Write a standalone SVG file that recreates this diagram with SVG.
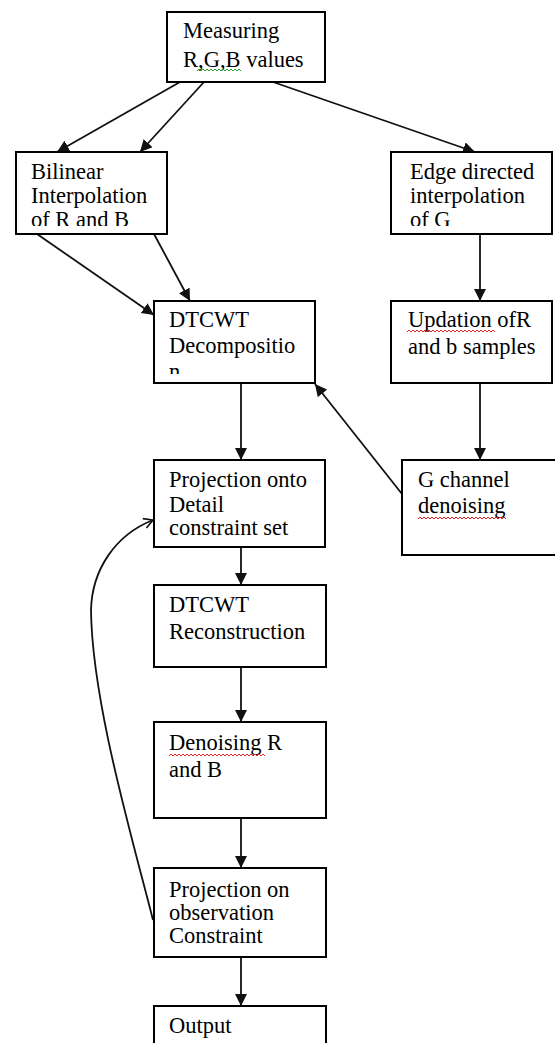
<svg xmlns="http://www.w3.org/2000/svg" width="555" height="1043" viewBox="0 0 555 1043">
<style>
.box{fill:#fff;stroke:#000;stroke-width:2}
.t{font-family:"Liberation Serif","Times New Roman",serif;font-size:22.5px;fill:#000}
.c{fill:none;stroke:#111;stroke-width:1.8}
.sq{fill:none;stroke:#e02020;stroke-width:1}
.sqg{fill:none;stroke:#2a9a2a;stroke-width:1}
</style>
<defs>
<marker id="ah" markerUnits="userSpaceOnUse" markerWidth="13" markerHeight="13" refX="12" refY="6" orient="auto">
<path d="M0,0 L12,6 L0,12 z" fill="#111"/>
</marker>
<marker id="oa" markerUnits="userSpaceOnUse" markerWidth="14" markerHeight="14" refX="10" refY="6" orient="auto">
<path d="M1,1 L10,6 L1,11" fill="none" stroke="#111" stroke-width="1.6"/>
</marker>
<clipPath id="cp2"><rect x="16" y="152" width="151" height="74"/></clipPath>
<clipPath id="cp3"><rect x="391" y="152" width="161" height="74"/></clipPath>
<clipPath id="cp4"><rect x="154" y="301" width="161" height="73"/></clipPath>
</defs>

<g id="connectors">
<line class="c" x1="180" y1="82" x2="57" y2="152" marker-end="url(#ah)"/>
<line class="c" x1="204" y1="82" x2="140" y2="152" marker-end="url(#ah)"/>
<line class="c" x1="273" y1="82" x2="475" y2="152" marker-end="url(#ah)"/>
<line class="c" x1="37" y1="234" x2="154" y2="315" marker-end="url(#ah)"/>
<line class="c" x1="154" y1="234" x2="190" y2="301" marker-end="url(#ah)"/>
<line class="c" x1="480" y1="234" x2="480" y2="301" marker-end="url(#ah)"/>
<line class="c" x1="480" y1="383" x2="480" y2="460" marker-end="url(#ah)"/>
<line class="c" x1="402" y1="494" x2="315" y2="384" marker-end="url(#ah)"/>
<line class="c" x1="241" y1="383" x2="241" y2="460" marker-end="url(#ah)"/>
<line class="c" x1="241" y1="547" x2="241" y2="585" marker-end="url(#ah)"/>
<line class="c" x1="241" y1="667" x2="241" y2="722" marker-end="url(#ah)"/>
<line class="c" x1="241" y1="818" x2="241" y2="868" marker-end="url(#ah)"/>
<line class="c" x1="241" y1="957" x2="241" y2="1006" marker-end="url(#ah)"/>
<path class="c" d="M153,920 C130,830 92,700 91,610 C92,570 115,535 153,520" marker-end="url(#oa)"/>
</g>

<g id="n1">
<rect class="box" x="167" y="12" width="158" height="70"/>
<text class="t" x="183" y="38">Measuring</text>
<text class="t" x="183" y="67">R,G,B values</text>
<path class="sqg" d="M197,71 l2,-2 l2,2 l2,-2 l2,2 l2,-2 l2,2 l2,-2 l2,2 l2,-2 l2,2 l2,-2 l2,2 l2,-2 l2,2 l2,-2 l2,2 l2,-2 l2,2 l2,-2 l2,2 l2,-2 l2,2"/>
</g>

<g id="n2">
<rect class="box" x="16" y="152" width="151" height="82"/>
<g clip-path="url(#cp2)">
<text class="t" x="31" y="179">Bilinear</text>
<text class="t" x="31" y="203">Interpolation</text>
<text class="t" x="31" y="227">of R and B</text>
</g>
</g>

<g id="n3">
<rect class="box" x="391" y="152" width="161" height="82"/>
<g clip-path="url(#cp3)">
<text class="t" x="410" y="179">Edge directed</text>
<text class="t" x="410" y="203">interpolation</text>
<text class="t" x="410" y="227">of G</text>
</g>
</g>

<g id="n4">
<rect class="box" x="154" y="301" width="161" height="82"/>
<g clip-path="url(#cp4)">
<text class="t" x="169" y="327">DTCWT</text>
<text class="t" x="169" y="353">Decompositio</text>
<text class="t" x="169" y="379">n</text>
</g>
</g>

<g id="n5">
<rect class="box" x="391" y="301" width="161" height="82"/>
<text class="t" x="408" y="327">Updation ofR</text>
<text class="t" x="408" y="354">and b samples</text>
<path class="sq" d="M407,332 l2,-2 l2,2 l2,-2 l2,2 l2,-2 l2,2 l2,-2 l2,2 l2,-2 l2,2 l2,-2 l2,2 l2,-2 l2,2 l2,-2 l2,2 l2,-2 l2,2 l2,-2 l2,2 l2,-2 l2,2 l2,-2 l2,2 l2,-2 l2,2 l2,-2 l2,2 l2,-2 l2,2 l2,-2 l2,2 l2,-2 l2,2 l2,-2 l2,2 l2,-2 l2,2 l2,-2 l2,2 l2,-2 l2,2 l2,-2 l2,2"/>
</g>

<g id="n6">
<rect class="box" x="402" y="460" width="160" height="95"/>
<text class="t" x="418" y="487">G channel</text>
<text class="t" x="418" y="513">denoising</text>
<path class="sq" d="M418,519 l2,-2 l2,2 l2,-2 l2,2 l2,-2 l2,2 l2,-2 l2,2 l2,-2 l2,2 l2,-2 l2,2 l2,-2 l2,2 l2,-2 l2,2 l2,-2 l2,2 l2,-2 l2,2 l2,-2 l2,2 l2,-2 l2,2 l2,-2 l2,2 l2,-2 l2,2 l2,-2 l2,2 l2,-2 l2,2 l2,-2 l2,2 l2,-2 l2,2 l2,-2 l2,2 l2,-2 l2,2 l2,-2 l2,2 l2,-2 l2,2"/>
</g>

<g id="n7">
<rect class="box" x="154" y="460" width="171" height="87"/>
<text class="t" x="169" y="487">Projection onto</text>
<text class="t" x="169" y="512">Detail</text>
<text class="t" x="169" y="535">constraint set</text>
</g>

<g id="n8">
<rect class="box" x="154" y="585" width="172" height="82"/>
<text class="t" x="169" y="612">DTCWT</text>
<text class="t" x="169" y="639">Reconstruction</text>
</g>

<g id="n9">
<rect class="box" x="154" y="722" width="172" height="96"/>
<text class="t" x="169" y="750">Denoising R</text>
<text class="t" x="169" y="777">and B</text>
<path class="sq" d="M169,756 l2,-2 l2,2 l2,-2 l2,2 l2,-2 l2,2 l2,-2 l2,2 l2,-2 l2,2 l2,-2 l2,2 l2,-2 l2,2 l2,-2 l2,2 l2,-2 l2,2 l2,-2 l2,2 l2,-2 l2,2 l2,-2 l2,2 l2,-2 l2,2 l2,-2 l2,2 l2,-2 l2,2 l2,-2 l2,2 l2,-2 l2,2 l2,-2 l2,2 l2,-2 l2,2 l2,-2 l2,2 l2,-2 l2,2 l2,-2 l2,2 l2,-2 l2,2 l2,-2 l2,2"/>
</g>

<g id="n10">
<rect class="box" x="154" y="868" width="172" height="89"/>
<text class="t" x="169" y="897">Projection on</text>
<text class="t" x="169" y="920">observation</text>
<text class="t" x="169" y="943">Constraint</text>
</g>

<g id="n11">
<rect class="box" x="154" y="1006" width="172" height="50"/>
<text class="t" x="169" y="1033">Output</text>
</g>
</svg>
